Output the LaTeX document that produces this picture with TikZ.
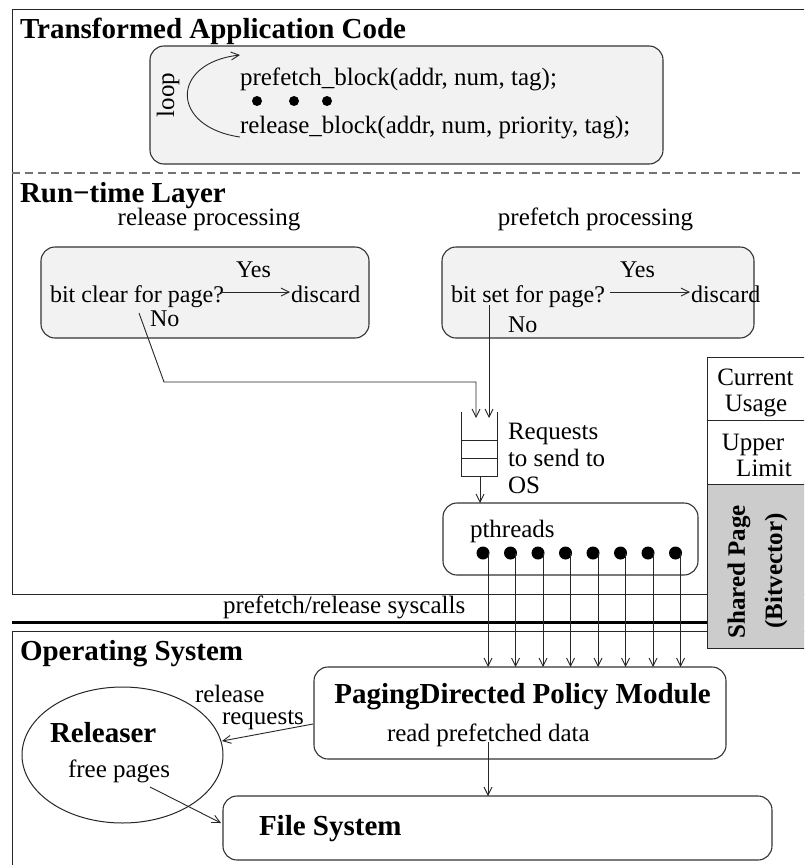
\documentclass[tikz,border=0pt]{standalone}
\usepackage{fontspec}
\setmainfont{Liberation Serif}
\usetikzlibrary{arrows.meta,calc,shapes.geometric}
\begin{document}
\begin{tikzpicture}[x=1pt,y=-1pt,
  every node/.style={inner sep=0pt, outer sep=0pt},
  reg/.style={font=\fontsize{25}{27}\selectfont},
  regs/.style={font=\fontsize{24}{26}\selectfont},
  hd/.style={font=\fontsize{29}{31}\selectfont\bfseries},
  hds/.style={font=\fontsize{25}{27}\selectfont\bfseries},
  boxline/.style={draw=black!80, line width=1.1pt},
  rbox/.style={boxline, rounded corners=14pt, fill=black!5},
  wbox/.style={boxline, rounded corners=14pt, fill=white},
  ln/.style={draw=black!85, line width=0.9pt},
  arr/.style={ln, -{Straight Barb[length=8pt,width=8pt]}},
  dot/.style={circle, fill=black, draw=none},
  frame/.style={draw=black!85, line width=1pt}
]
\useasboundingbox (0,0) rectangle (804,865);
\clip (0,0) rectangle (804,865);
\fill[white] (0,0) rectangle (804,865);

% ---------- frames ----------
\coordinate (fTL) at (12,9);
\coordinate (fBR) at (900,594.5);
\draw[frame] (fTL) rectangle (fBR);
\coordinate (dL) at (12,173);
\coordinate (dR) at (804,173);
\draw[draw=black!55, line width=1.2pt, dash pattern=on 8pt off 5pt] (dL) -- (dR);
\coordinate (tkL) at (12,622.5);
\coordinate (tkR) at (720,622.5);
\draw[black, line width=3pt] (tkL) -- (tkR);
\coordinate (osTL) at (12,631);
\coordinate (osBR) at (900,900);
\draw[frame] (osTL) rectangle (osBR);

% ---------- Transformed Application Code ----------
\node[hd, anchor=base west] (ttl1) at (20,38) {Transformed Application Code};
\node[rbox, minimum width=513, minimum height=118] (code) at (406.5,105) {};
\node[reg, anchor=base west] (pf) at (240,85) {prefetch\_block(addr, num, tag);};
\node[reg, anchor=base west] (rb) at (240,133) {release\_block(addr, num, priority, tag);};
\node[dot, minimum size=10] (c1) at (257,101) {};
\node[dot, minimum size=10] (c2) at (294,101) {};
\node[dot, minimum size=10] (c3) at (327,101) {};
\node[reg, rotate=90] (loop) at (168,95) {loop};
\coordinate (lpS) at (240,137);
\coordinate (lpE) at (240,55);
\draw[arr] (lpS) .. controls (170,127) and (170,63) .. (lpE);

% ---------- Run-time Layer ----------
\node[hd, anchor=base west] (ttl2) at (20,202) {Run−time Layer};
\node[reg, anchor=base] (rpt) at (209,225) {release processing};
\node[reg, anchor=base] (ppt) at (595.5,225) {prefetch processing};
\node[rbox, minimum width=328, minimum height=91] (relbox) at (205,292.5) {};
\node[rbox, minimum width=312, minimum height=91] (prebox) at (598,292.5) {};

\node[regs, anchor=base west] (q1) at (50,302) {bit clear for page?};
\node[regs, anchor=base west] (yes1) at (236,277) {Yes};
\node[regs, anchor=base west] (dis1) at (291,302) {discard};
\node[regs, anchor=base west] (no1) at (150,326) {No};
\coordinate (ya1) at (220,292);
\coordinate (yb1) at (290,292);
\draw[arr] (ya1) -- (yb1);

\node[regs, anchor=base west] (q2) at (451,302) {bit set for page?};
\node[regs, anchor=base west] (yes2) at (620,277) {Yes};
\node[regs, anchor=base west] (dis2) at (691,302) {discard};
\node[regs, anchor=base west] (no2) at (508,332) {No};
\coordinate (ya2) at (610,292);
\coordinate (yb2) at (690,292);
\draw[arr] (ya2) -- (yb2);

% queue
\node[minimum width=36, minimum height=64] (queue) at (479,444) {};
\draw[ln] (queue.north west) -- (queue.south west) -- (queue.south east) -- (queue.north east);
\draw[ln] ($(queue.west)+(0,-4)$) -- ($(queue.east)+(0,-4)$);
\draw[ln] ($(queue.west)+(0,14)$) -- ($(queue.east)+(0,14)$);
\node[reg, anchor=base west] (rq1) at (508,439) {Requests};
\node[reg, anchor=base west] (rq2) at (508,466) {to send to};
\node[reg, anchor=base west] (rq3) at (508,493) {OS};

\coordinate (n1a) at (139,313);
\coordinate (n1b) at (164,382);
\coordinate (qin1) at (476,418);
\draw[arr] (n1a) -- (n1b) -| (qin1);
\coordinate (n2a) at (489,305);
\coordinate (qin2) at (489,418);
\draw[arr] (n2a) -- (qin2);

% pthreads
\node[wbox, minimum width=255, minimum height=72] (pth) at (570.5,539) {};
\node[reg, anchor=base west] (ptht) at (470,537) {pthreads};
\coordinate (qout) at (480,476);
\draw[arr] (qout) -- (qout |- pth.north);

% ---------- Shared page ----------
\coordinate (spTL) at (707,357);
\coordinate (spBR) at (830,648);
\coordinate (sp1) at (707,420);
\coordinate (sp2) at (707,484);
\fill[white] (spTL) rectangle (830,484);
\fill[black!20] (sp2) rectangle (spBR);
\draw[frame] (spTL) rectangle (spBR);
\draw[frame] (sp1) -- +(130,0);
\draw[frame] (sp2) -- +(130,0);
\node[reg, anchor=base] (cu1) at (755.5,385) {Current};
\node[reg, anchor=base] (cu2) at (756,411) {Usage};
\node[reg, anchor=base] (ul1) at (753,450) {Upper};
\node[reg, anchor=base] (ul2) at (764,476) {Limit};
\node[hds, rotate=90] (spg) at (739,572) {Shared Page};
\node[hds, rotate=90] (bvt) at (776,571) {(Bitvector)};

\node[reg, anchor=base west] (sys) at (223,613) {prefetch/release syscalls};

% ---------- Operating System ----------
\node[hd, anchor=base west] (ttl3) at (20,660) {Operating System};
\node[wbox, minimum width=412, minimum height=92] (pol) at (520,713) {};
\node[hd, anchor=base] (polt) at (522.5,703) {PagingDirected Policy Module};
\node[reg, anchor=base west] (rpd) at (387,741) {read prefetched data};
\node[wbox, minimum width=549, minimum height=64] (fs) at (497.5,828) {};
\node[hd, anchor=base west] (fst) at (259,835) {File System};
\node[ellipse, draw=black!85, line width=1pt, minimum width=201, minimum height=136] (rel) at (122.5,755) {};
\node[hd, anchor=base west] (relt) at (50,742) {Releaser};
\node[reg, anchor=base west] (fp) at (68,777) {free pages};
\node[reg, anchor=base west] (rr1) at (195,702) {release};
\node[reg, anchor=base west] (rr2) at (222,724) {requests};

\coordinate (rrA) at (313,724);
\coordinate (rrB) at (222,741);
\draw[arr] (rrA) -- (rrB);
\coordinate (fpA) at (150,787);
\coordinate (fpB) at (221,823);
\draw[arr] (fpA) -- (fpB);
\coordinate (rdA) at (488,742);
\draw[arr] (rdA) -- (rdA |- fs.north);

% threads + syscall arrows
\foreach \i in {0,...,7} {
  \node[dot, minimum size=13] (t\i) at (483+27.5*\i,553) {};
  \draw[arr] ([xshift=5pt]t\i.center) -- ([xshift=5pt]t\i.center |- pol.north);
}
\end{tikzpicture}
\end{document}
